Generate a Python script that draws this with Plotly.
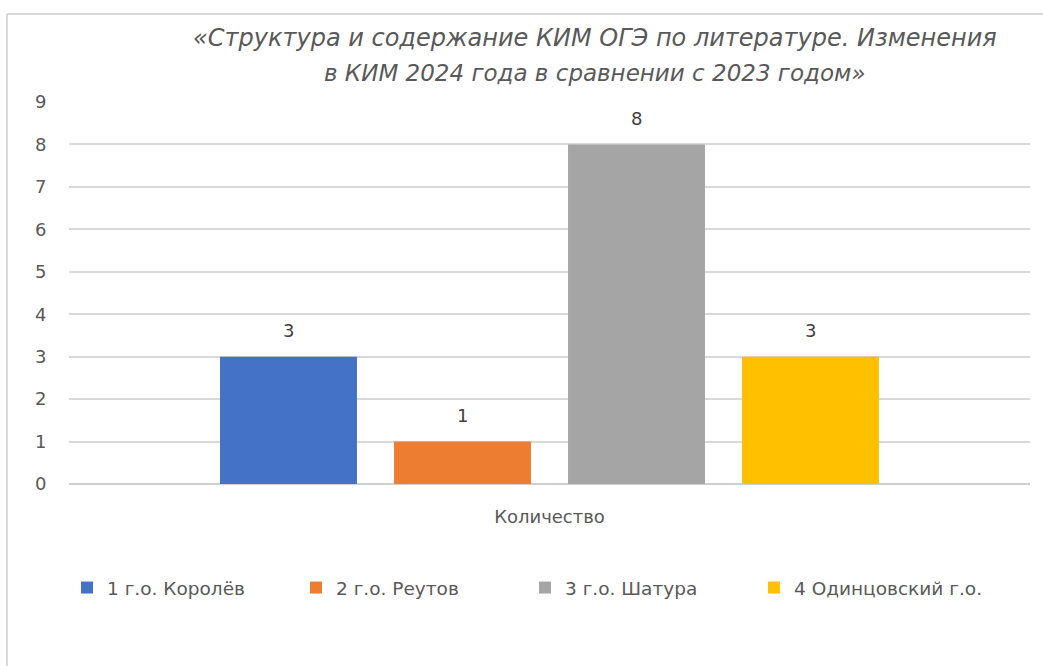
import plotly.graph_objects as go

categories = ["Количество"]
series_names = ["1 г.о. Королёв", "2 г.о. Реутов", "3 г.о. Шатура", "4 Одинцовский г.о."]
series_values = [3, 1, 8, 3]
series_colors = ["#4472C4", "#ED7D31", "#A5A5A5", "#FFC000"]
y_ticks = [0, 1, 2, 3, 4, 5, 6, 7, 8, 9]
title_lines = ["«Структура и содержание КИМ ОГЭ по литературе. Изменения",
               "в КИМ 2024 года в сравнении с 2023 годом»"]

W, H = 1043, 666
L, R, T, B = 69, 1030, 102, 484
FONT = "'DejaVu Sans', sans-serif"

fig = go.Figure()
for i, (name, val, col) in enumerate(zip(series_names, series_values, series_colors)):
    fig.add_trace(go.Bar(
        x=[i], y=[val], name=name, marker=dict(color=col, line=dict(width=0)),
        width=0.787, hoverinfo="name+y",
    ))
    fig.add_annotation(x=i, y=val, text=str(val), showarrow=False, yshift=26,
                       font=dict(family=FONT, size=18, color="#404040"))

n = len(series_names)
center = (n - 1) / 2
half = (R - L) / 174 / 2

def px_x(p):
    return (p - L) / (R - L)

def px_y(p):
    return (B - p) / (B - T)

for line, ypx, sz in zip(title_lines, [38, 73], [24, 23]):
    fig.add_annotation(xref="paper", yref="paper", x=px_x(595), y=px_y(ypx), text=line,
                       showarrow=False, font=dict(family=FONT, size=sz, color="#595959", style="italic"),
                       xanchor="center", yanchor="middle")

# chart border (top and left edges visible)
fig.add_shape(type="line", xref="paper", yref="paper", x0=px_x(7), x1=px_x(1043), y0=px_y(14), y1=px_y(14),
              line=dict(color="#D9D9D9", width=2))
fig.add_shape(type="line", xref="paper", yref="paper", x0=px_x(7), x1=px_x(7), y0=px_y(14), y1=px_y(666),
              line=dict(color="#D9D9D9", width=2))

fig.update_layout(
    width=W, height=H,
    margin=dict(l=L, r=W - R, t=T, b=H - B, pad=0),
    paper_bgcolor="white", plot_bgcolor="white",
    showlegend=True,
    legend=dict(orientation="h", x=px_x(67), y=px_y(588), xanchor="left", yanchor="middle",
                entrywidth=184, entrywidthmode="pixels", traceorder="normal",
                font=dict(family=FONT, size=18.5, color="#595959"), itemwidth=30),
    xaxis=dict(range=[center - half, center + half], tickvals=[center], ticktext=categories,
               showgrid=False, zeroline=False, showline=False, ticks="outside", ticklen=16,
               tickcolor="rgba(0,0,0,0)", tickfont=dict(family=FONT, size=18, color="#595959"),
               fixedrange=True),
    yaxis=dict(range=[0, 9], tickvals=y_ticks, showgrid=True, gridcolor="#D9D9D9", gridwidth=1.5,
               zeroline=True, zerolinecolor="#D0D0D0", zerolinewidth=2, showline=False,
               ticks="outside", ticklen=18, tickcolor="rgba(0,0,0,0)",
               tickfont=dict(family=FONT, size=18, color="#595959"), fixedrange=True),
)

fig.write_html("out.html", config={"displayModeBar": False},
               post_script="document.body.style.margin='0';")
